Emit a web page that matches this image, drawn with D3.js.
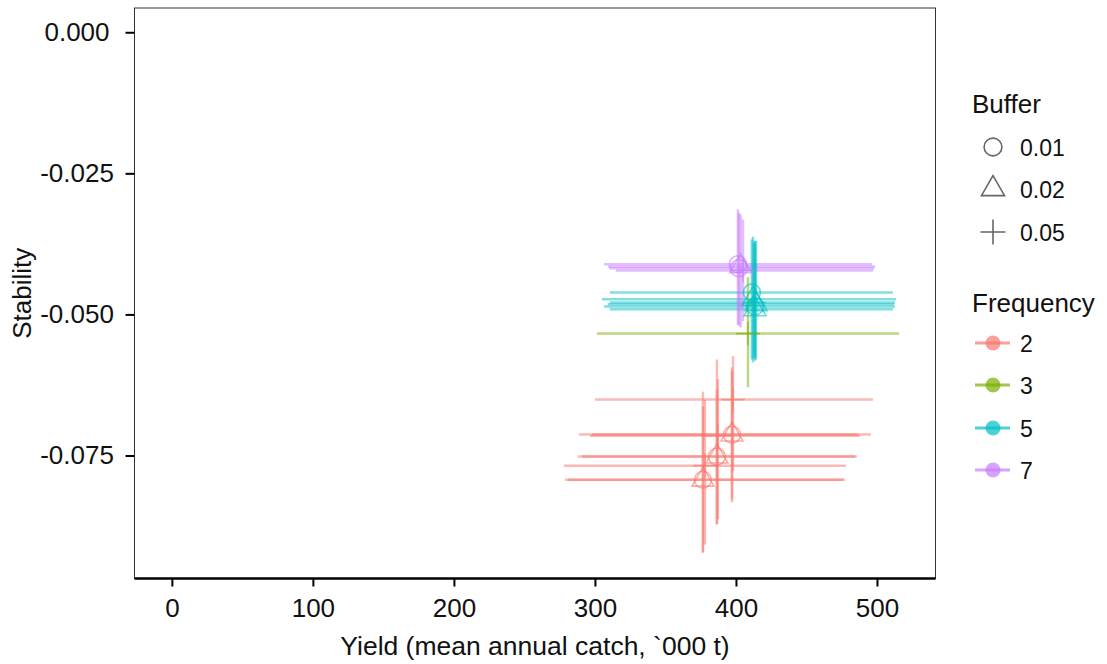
<!DOCTYPE html>
<html>
<head>
<meta charset="utf-8">
<script src="https://cdn.jsdelivr.net/npm/d3@7"></script>
<style>
  html, body { margin: 0; padding: 0; background: #fff; }
  svg { display: block; font-family: "Liberation Sans", Arial, Helvetica, sans-serif; }
</style>
</head>
<body>
<svg id="chart" width="1107" height="664"></svg>
<script>
// Harvest strategy summary: yield vs stability with interval bars
const frequency = [2, 2, 2, 2, 2, 2, 2, 2, 2,
                   3,
                   5, 5, 5, 5, 5, 5,
                   7, 7, 7, 7];
const buffer    = [0.01, 0.02, 0.05, 0.01, 0.02, 0.05, 0.01, 0.02, 0.05,
                   0.05,
                   0.01, 0.02, 0.05, 0.01, 0.02, 0.02,
                   0.01, 0.02, 0.05, 0.01];
const yieldMid  = [397.2, 397.2, 397.9, 386.5, 386.5, 387.2, 376.6, 376.6, 378.0,
                   408.5,
                   411.3, 412.1, 412.8, 413.5, 413.5, 414.2,
                   401.4, 403.3, 405.0, 402.1];
const yieldLo   = [288.7, 297.9, 300.0, 287.9, 290.8, 296.5, 278.7, 280.9, 278.0,
                   301.4,
                   310.6, 305.0, 310.6, 306.4, 310.6, 309.2,
                   306.4, 309.2, 314.9, 310.0];
const yieldHi   = [495.7, 486.5, 497.2, 485.8, 484.4, 488.0, 475.9, 477.3, 478.0,
                   515.6,
                   511.3, 513.5, 512.8, 512.8, 511.3, 512.1,
                   496.5, 498.6, 497.2, 497.9];
const stabMid   = [-0.0713, -0.0713, -0.0651, -0.0752, -0.0752, -0.0715, -0.0793, -0.0793, -0.0768,
                   -0.0534,
                   -0.0461, -0.0473, -0.0479, -0.0486, -0.0491, -0.0482,
                   -0.0411, -0.0415, -0.0422, -0.0418];
const stabLo    = [-0.0833, -0.0828, -0.0778, -0.0872, -0.0872, -0.0863, -0.0922, -0.0922, -0.0908,
                   -0.0629,
                   -0.0580, -0.0585, -0.0578, -0.0582, -0.0575, -0.0580,
                   -0.0518, -0.0523, -0.0512, -0.0520];
const stabHi    = [-0.0594, -0.0601, -0.0574, -0.0580, -0.0633, -0.0615, -0.0663, -0.0637, -0.0651,
                   -0.0434,
                   -0.0367, -0.0362, -0.0372, -0.0369, -0.0375, -0.0370,
                   -0.0314, -0.0323, -0.0332, -0.0320];

const xTicks = [0, 100, 200, 300, 400, 500];
const yTicks = [0, -0.025, -0.05, -0.075];
const frequencyLevels = [2, 3, 5, 7];
const bufferLevels = [0.01, 0.02, 0.05];
const bufferLabels = ["0.01", "0.02", "0.05"];
const palette = ["#F8766D", "#7CAE00", "#00BFC4", "#C77CFF"];

const records = frequency.map((f, i) => ({
  freq: f, buf: buffer[i],
  x: yieldMid[i], xlo: yieldLo[i], xhi: yieldHi[i],
  y: stabMid[i], ylo: stabLo[i], yhi: stabHi[i]
}));

const panel = { left: 134.5, right: 935.5, top: 8, bottom: 578.5 };
const x = d3.scaleLinear().domain([-26.5, 541.5]).range([panel.left, panel.right]);
const y = d3.scaleLinear().domain([-0.0968, 0.0043]).range([panel.bottom, panel.top]);
const colour = d3.scaleOrdinal().domain(frequencyLevels).range(palette);
const shape = d3.scaleOrdinal().domain(bufferLevels)
  .range([d3.symbolCircle, d3.symbolTriangle2, d3.symbolPlus]);
const shapeSize = d3.scaleOrdinal().domain(bufferLevels).range([227, 347, 187]);

const svg = d3.select("#chart");
const textColour = "#111";

// panel background and border
svg.append("rect")
  .attr("x", panel.left).attr("y", panel.top)
  .attr("width", panel.right - panel.left).attr("height", panel.bottom - panel.top)
  .attr("fill", "#fff").attr("stroke", "#333").attr("stroke-width", 1);

const plot = svg.append("g");

// horizontal interval bars (yield)
plot.append("g").selectAll("line").data(records).join("line")
  .attr("x1", d => x(d.xlo)).attr("x2", d => x(d.xhi))
  .attr("y1", d => y(d.y)).attr("y2", d => y(d.y))
  .attr("stroke", d => colour(d.freq)).attr("stroke-width", 2.5)
  .attr("stroke-opacity", 0.5);

// vertical interval bars (stability)
plot.append("g").selectAll("line").data(records).join("line")
  .attr("x1", d => x(d.x)).attr("x2", d => x(d.x))
  .attr("y1", d => y(d.ylo)).attr("y2", d => y(d.yhi))
  .attr("stroke", d => colour(d.freq)).attr("stroke-width", 2.5)
  .attr("stroke-opacity", 0.5);

// point markers, shaped by buffer
plot.append("g").selectAll("path").data(records).join("path")
  .attr("transform", d => `translate(${x(d.x)},${y(d.y)})`)
  .attr("d", d => d3.symbol().type(shape(d.buf)).size(shapeSize(d.buf))())
  .attr("fill", "none")
  .attr("stroke", d => colour(d.freq)).attr("stroke-width", 1.6)
  .attr("stroke-opacity", 0.6);

// x axis
const xAxis = svg.append("g")
  .attr("transform", `translate(0,${panel.bottom})`)
  .call(d3.axisBottom(x).tickValues(xTicks).tickSize(8).tickPadding(12).tickFormat(d3.format("d")));
xAxis.select(".domain").remove();
xAxis.selectAll(".tick line").attr("stroke", "#000").attr("stroke-width", 2);
xAxis.selectAll(".tick text")
  .attr("fill", textColour).attr("font-size", 26)
  .attr("font-family", "'Liberation Sans', Arial, Helvetica, sans-serif");

// thicker baseline along the bottom of the panel
svg.append("line")
  .attr("x1", panel.left).attr("x2", panel.right)
  .attr("y1", panel.bottom).attr("y2", panel.bottom)
  .attr("stroke", "#000").attr("stroke-width", 2.5);

// y axis
const yAxis = svg.append("g")
  .attr("transform", `translate(${panel.left},0)`)
  .call(d3.axisLeft(y).tickValues(yTicks).tickSize(9).tickFormat(d3.format(".3f")));
yAxis.select(".domain").remove();
yAxis.selectAll(".tick line").attr("stroke", "#000").attr("stroke-width", 2);
yAxis.selectAll(".tick text")
  .attr("fill", textColour).attr("font-size", 26)
  .attr("font-family", "'Liberation Sans', Arial, Helvetica, sans-serif")
  .attr("text-anchor", "middle").attr("x", -57.5)
  .text(d => d3.format(".3f")(d).replace("−", "-"));

// axis titles
svg.append("text")
  .attr("x", (panel.left + panel.right) / 2).attr("y", 655)
  .attr("text-anchor", "middle").attr("font-size", 26.5).attr("fill", textColour)
  .text("Yield (mean annual catch, `000 t)");

svg.append("text")
  .attr("transform", `translate(31,${(panel.top + panel.bottom) / 2}) rotate(-90)`)
  .attr("text-anchor", "middle").attr("font-size", 26).attr("fill", textColour)
  .text("Stability");

// legend: buffer (shape)
const legendX = 972;
const keyX = 993;
const labelX = 1020;
const bufLegend = svg.append("g");
bufLegend.append("text").attr("x", legendX).attr("y", 113)
  .attr("font-size", 26).attr("fill", textColour).text("Buffer");
const bufRows = [147, 189, 232];
bufLegend.selectAll("path").data(bufferLevels).join("path")
  .attr("transform", (d, i) => `translate(${keyX},${bufRows[i]})`)
  .attr("d", d => d3.symbol().type(shape(d)).size(shapeSize(d) * 1.1)())
  .attr("fill", "none").attr("stroke", "#000").attr("stroke-opacity", 0.6)
  .attr("stroke-width", 1.6);
bufLegend.selectAll("text.lab").data(bufferLabels).join("text")
  .attr("class", "lab")
  .attr("x", labelX).attr("y", (d, i) => bufRows[i] + 8.5)
  .attr("font-size", 23).attr("fill", textColour).text(d => d);

// legend: frequency (colour)
const freqLegend = svg.append("g");
freqLegend.append("text").attr("x", legendX).attr("y", 312)
  .attr("font-size", 26).attr("fill", textColour).text("Frequency");
const freqRows = [343, 385, 428, 470];
const keys = freqLegend.selectAll("g.key").data(frequencyLevels).join("g")
  .attr("class", "key")
  .attr("transform", (d, i) => `translate(0,${freqRows[i]})`);
keys.append("line").attr("x1", 975).attr("x2", 1010).attr("y1", 0).attr("y2", 0)
  .attr("stroke", d => colour(d)).attr("stroke-width", 3).attr("stroke-opacity", 0.7);
keys.append("circle").attr("cx", keyX).attr("cy", 0).attr("r", 7.5)
  .attr("fill", d => colour(d)).attr("fill-opacity", 0.7);
keys.append("text").attr("x", labelX).attr("y", 9)
  .attr("font-size", 23).attr("fill", textColour).text(d => d);
</script>
</body>
</html>
